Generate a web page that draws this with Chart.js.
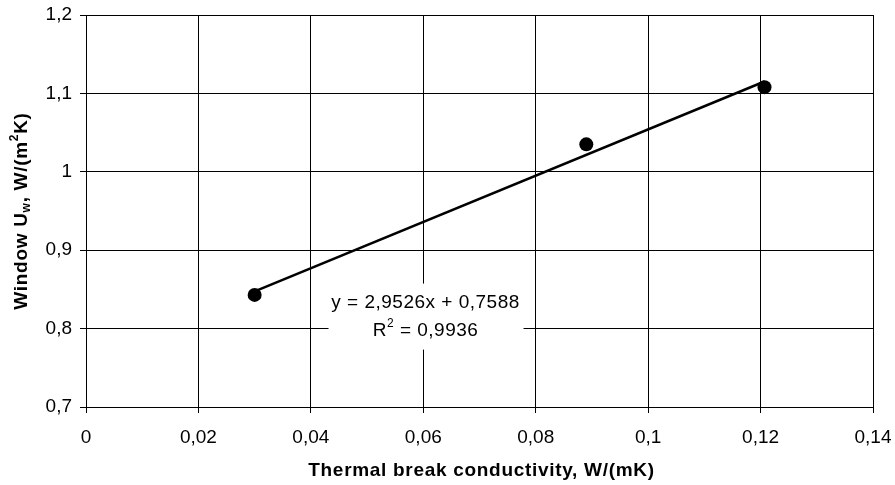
<!DOCTYPE html>
<html>
<head>
<meta charset="utf-8">
<script src="https://cdn.jsdelivr.net/npm/chart.js@4"></script>
<style>
  body { margin: 0; background: #fff; }
  canvas { display: block; }
</style>
</head>
<body>
<canvas id="myChart" width="895" height="485"></canvas>
<script>
// measured points
const conductivity = [0.030, 0.089, 0.1207];
const windowUw = [0.843, 1.035, 1.108];

// trendline as printed on the chart
const slope = 2.9526;
const intercept = 0.7588;
const rSquared = 0.9936;

const xTicks = [0, 0.02, 0.04, 0.06, 0.08, 0.1, 0.12, 0.14];
const yTicks = [0.7, 0.8, 0.9, 1, 1.1, 1.2];

const FONT = "'Liberation Sans', Arial, sans-serif";

function comma(v) {
  return String(v).replace('.', ',');
}
function tickText(v) {
  return comma(Math.round(v * 1000) / 1000);
}

const points = conductivity.map((x, i) => ({ x: x, y: windowUw[i] }));
const xMin = Math.min.apply(null, conductivity);
const xMax = Math.max.apply(null, conductivity);
const trend = [
  { x: xMin, y: slope * xMin + intercept },
  { x: xMax, y: slope * xMax + intercept }
];

// draws a row of [text, size, dy] pieces centred on x
function drawParts(ctx, parts, cx, cy, weight, spacing) {
  ctx.letterSpacing = spacing;
  let total = 0;
  parts.forEach(p => {
    ctx.font = weight + p[1] + 'px ' + FONT;
    p.w = ctx.measureText(p[0]).width;
    total += p.w;
  });
  let x = cx - total / 2;
  ctx.textAlign = 'left';
  ctx.textBaseline = 'middle';
  parts.forEach(p => {
    ctx.font = weight + p[1] + 'px ' + FONT;
    ctx.fillText(p[0], x, cy + p[2]);
    x += p.w;
  });
}

const annotations = {
  id: 'annotations',
  beforeDatasetsDraw(chart) {
    const ctx = chart.ctx;
    const xs = chart.scales.x, ys = chart.scales.y;
    const cx = xs.getPixelForValue(0.0604);
    const l2 = ys.getPixelForValue(0.8) + 2;
    const l1 = l2 - 28;
    ctx.save();
    ctx.fillStyle = '#fff';
    ctx.fillRect(cx - 97, l1 - 19, 195, 66);
    ctx.fillStyle = '#000';
    drawParts(ctx, [['y = ' + comma(slope) + 'x + ' + comma(intercept), 19, 0]], cx, l1, '', '0.5px');
    drawParts(ctx, [['R', 19, 0], ['2', 12, -7], [' = ' + comma(rSquared), 19, 0]], cx, l2, '', '0.5px');
    ctx.restore();
  },
  afterDraw(chart) {
    const ctx = chart.ctx;
    const area = chart.chartArea;
    ctx.save();
    ctx.fillStyle = '#000';
    // x title
    drawParts(ctx, [['Thermal break conductivity, W/(mK)', 19, 0]],
      (area.left + area.right) / 2 + 2, 471, 'bold ', '0.7px');
    // y title
    ctx.translate(22, (area.top + area.bottom) / 2);
    ctx.rotate(-Math.PI / 2);
    drawParts(ctx, [['Window U', 19, 0], ['w', 12, 5], [', W/(m', 19, 0], ['2', 12, -7], ['K)', 19, 0]],
      0, 0, 'bold ', '0.7px');
    ctx.restore();
  }
};

function noPad(s) {
  s.paddingTop = 0;
  s.paddingBottom = 0;
  s.paddingLeft = 0;
  s.paddingRight = 0;
}

Chart.defaults.color = '#000';
Chart.defaults.font.family = FONT;
Chart.defaults.font.size = 19;

const ctx = document.getElementById('myChart').getContext('2d');
const myChart = new Chart(ctx, {
  type: 'scatter',
  data: {
    datasets: [{
      label: 'trend',
      data: trend,
      showLine: true,
      borderColor: '#000',
      borderWidth: 2.5,
      pointRadius: 0,
      order: 2
    }, {
      label: 'Uw',
      data: points,
      backgroundColor: '#000',
      borderColor: '#000',
      borderWidth: 0,
      pointRadius: 7,
      order: 1
    }]
  },
  options: {
    responsive: false,
    animation: false,
    layout: { padding: { left: 0, right: 22, top: 15, bottom: 0 } },
    plugins: {
      legend: { display: false },
      tooltip: { enabled: false }
    },
    scales: {
      x: {
        type: 'linear',
        min: 0,
        max: 0.14,
        afterBuildTicks: s => { s.ticks = xTicks.map(v => ({ value: v })); },
        afterFit: s => { s.height = 78; noPad(s); },
        grid: { color: '#000', lineWidth: 1, tickLength: 6 },
        border: { color: '#000', width: 1 },
        ticks: { padding: 13, maxRotation: 0, callback: v => tickText(v) }
      },
      y: {
        min: 0.7,
        max: 1.2,
        afterBuildTicks: s => { s.ticks = yTicks.map(v => ({ value: v })); },
        afterFit: s => { s.width = 86; noPad(s); },
        grid: { color: '#000', lineWidth: 1, tickLength: 6 },
        border: { color: '#000', width: 1 },
        ticks: { padding: 8, callback: v => tickText(v) }
      }
    }
  },
  plugins: [annotations]
});
</script>
</body>
</html>
